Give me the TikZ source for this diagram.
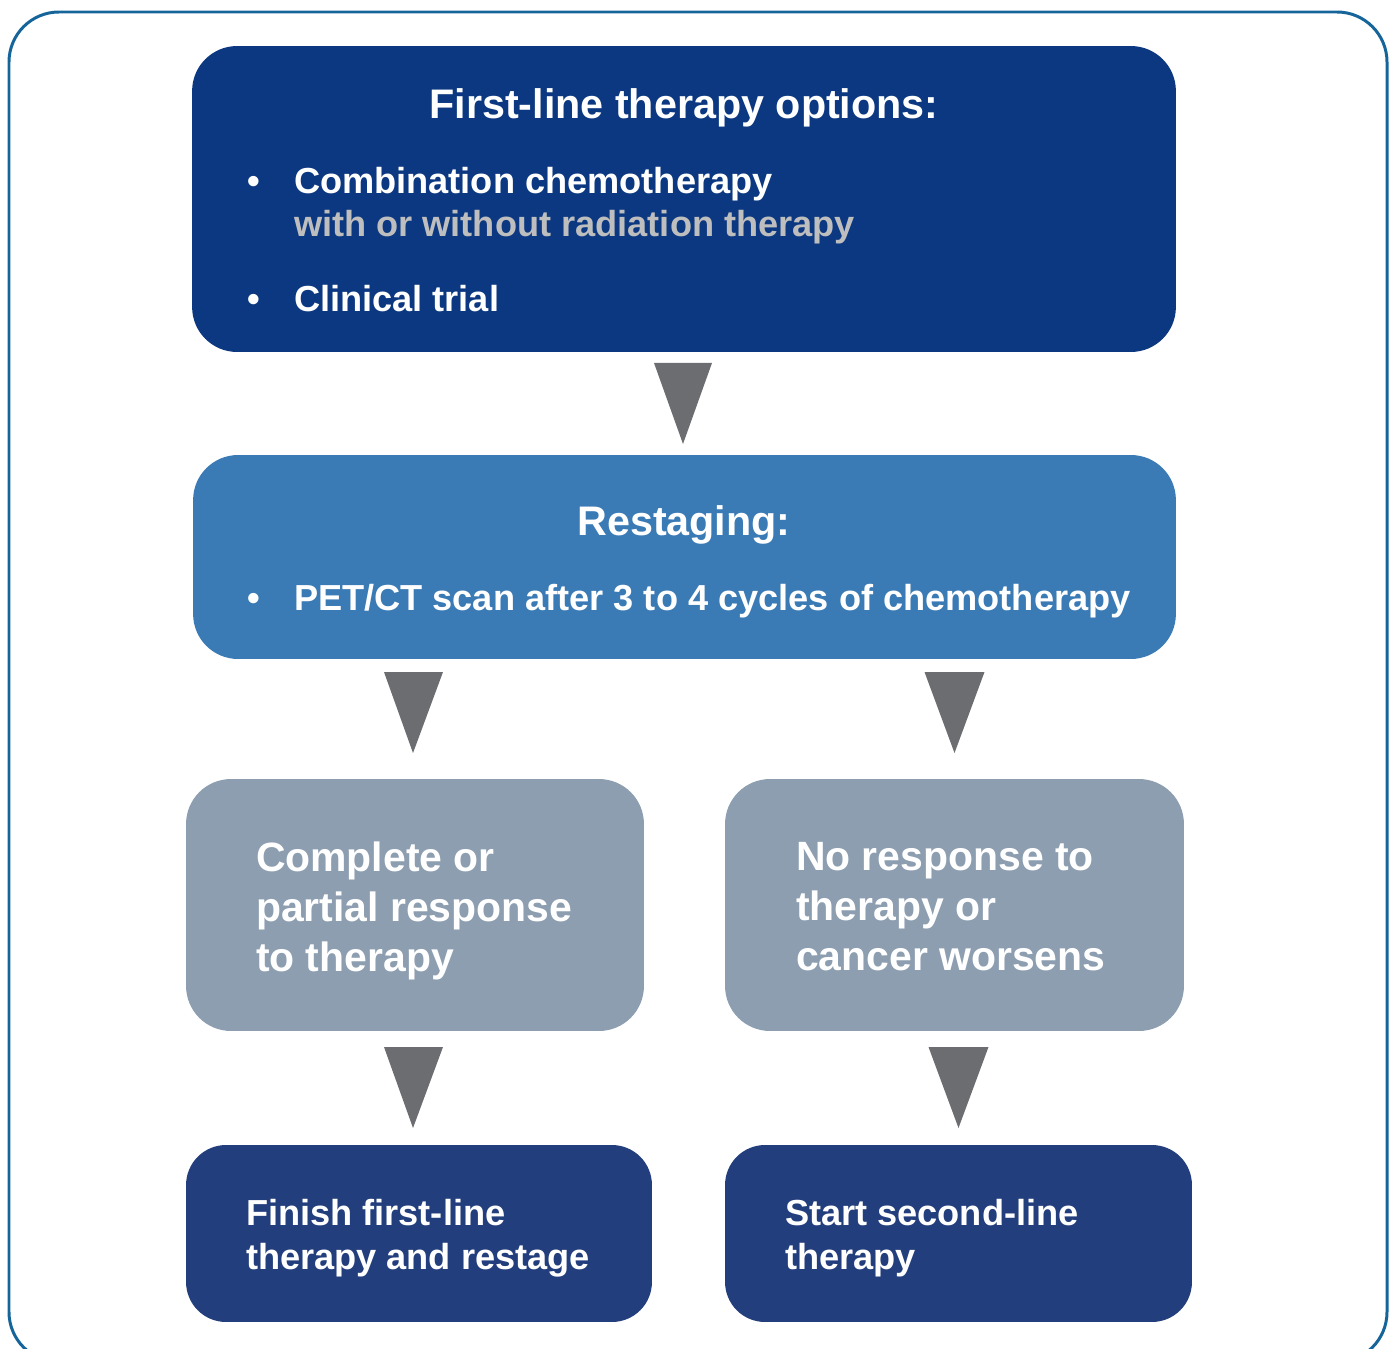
\documentclass[tikz,border=0pt]{standalone}
\usepackage{xcolor}
\usepackage{fontspec}
\setmainfont{Liberation Sans}
\usepackage{tikz}
\usetikzlibrary{calc,positioning}

\definecolor{frameblue}{HTML}{16659A}
\definecolor{firstblue}{HTML}{0B3880}
\definecolor{restageblue}{HTML}{3A7AB5}
\definecolor{responsegray}{HTML}{8C9EB0}
\definecolor{finishblue}{HTML}{233E7C}
\definecolor{arrowgray}{HTML}{6C6D71}
\definecolor{softgray}{HTML}{BEBEBE}

\begin{document}
\begin{tikzpicture}[x=0.02cm, y=-0.02cm,
    every node/.style={inner sep=0pt, outer sep=0pt},
    box/.style={rounded corners=0.9cm},
    headtxt/.style={text=white, font=\bfseries\fontsize{23.5}{28}\selectfont},
    itemtxt/.style={text=white, font=\bfseries\fontsize{20.6}{24.5}\selectfont},
    resptxt/.style={text=white, align=left, font=\bfseries\fontsize{23.3}{28.5}\selectfont},
    endtxt/.style={text=white, align=left, font=\bfseries\fontsize{20.6}{25}\selectfont},
    arrowtri/.style={fill=arrowgray}]

        \useasboundingbox (0,0) rectangle (1394,1349);

        % outer frame
        \draw[frameblue, line width=1.7pt, rounded corners=1cm] (9,12) rectangle (1387,1362);

        % boxes
        \node[box, fill=firstblue, minimum width=19.68cm, minimum height=6.12cm] (first) at (684,199) {};
        \node[box, fill=restageblue, minimum width=19.66cm, minimum height=4.08cm] (restage) at (684.5,557) {};
        \node[box, fill=responsegray, minimum width=9.16cm, minimum height=5.04cm] (cpr) at (415,905) {};
        \node[box, fill=responsegray, minimum width=9.18cm, minimum height=5.04cm] (nores) at (954.5,905) {};
        \node[box, fill=finishblue, rounded corners=0.8cm, minimum width=9.32cm, minimum height=3.54cm] (finish) at (419,1233.5) {};
        \node[box, fill=finishblue, rounded corners=0.8cm, minimum width=9.34cm, minimum height=3.54cm] (second) at (958.5,1233.5) {};

        % first-line text
        \node[headtxt, anchor=base] (firsthead) at (684,118) {First-line therapy options:};
        \node[itemtxt, anchor=base] (dota) at (254,193) {•};
        \node[itemtxt, anchor=base west] (combo) at (294,193) {Combination chemotherapy};
        \node[itemtxt, anchor=base west, text=softgray] (radio) at (294,236) {with or without radiation therapy};
        \node[itemtxt, anchor=base] (dotb) at (254,311) {•};
        \node[itemtxt, anchor=base west] (trial) at (294,311) {Clinical trial};

        % restaging text
        \node[headtxt, anchor=base] (restagehead) at (684,535) {Restaging:};
        \node[itemtxt, anchor=base] (dotc) at (254,610) {•};
        \node[itemtxt, anchor=base west] (pet) at (294,610) {PET/CT scan after 3 to 4 cycles of chemotherapy};

        % response text
        \node[resptxt, anchor=west] (cprtxt) at (256,911) {Complete or\\partial response\\to therapy};
        \node[resptxt, anchor=west] (norestxt) at (796,907) {No response to\\therapy or\\cancer worsens};

        % end text
        \node[endtxt, anchor=west] (finishtxt) at (246,1238) {Finish first-line\\therapy and restage};
        \node[endtxt, anchor=west] (secondtxt) at (785,1238) {Start second-line\\therapy};

        % arrows
        \fill[arrowtri] ($(first.south)+(-30,11)$) -- ($(first.south)+(28,11)$) -- ($(first.south)+(-1,92)$) -- cycle;
        \fill[arrowtri] ($(cpr.north)+(-31,-107)$) -- ($(cpr.north)+(28,-107)$) -- ($(cpr.north)+(-2,-26)$) -- cycle;
        \fill[arrowtri] ($(nores.north)+(-30,-107)$) -- ($(nores.north)+(30,-107)$) -- ($(nores.north)+(0,-26)$) -- cycle;
        \fill[arrowtri] ($(finish.north)+(-35,-98)$) -- ($(finish.north)+(24,-98)$) -- ($(finish.north)+(-6,-17)$) -- cycle;
        \fill[arrowtri] ($(second.north)+(-30,-98)$) -- ($(second.north)+(30,-98)$) -- ($(second.north)+(0,-17)$) -- cycle;

    \end{tikzpicture}
\end{document}
